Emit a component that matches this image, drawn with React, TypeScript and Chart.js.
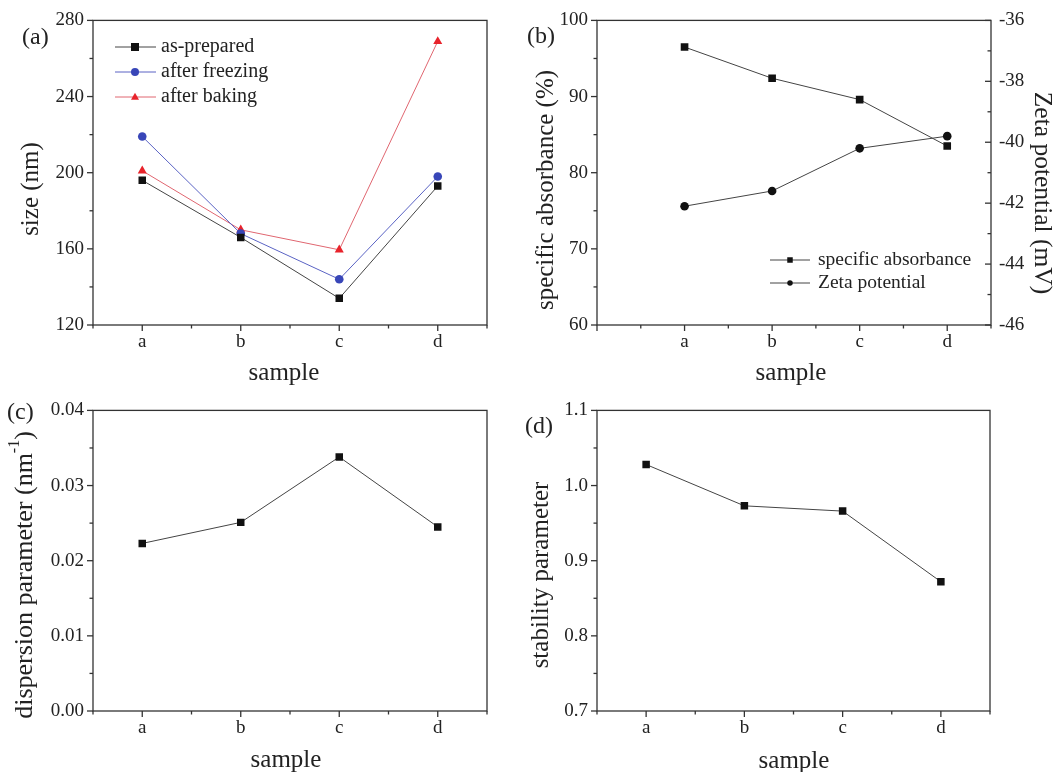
import React, { useEffect, useRef } from 'react';
import { Chart, registerables } from 'chart.js';

Chart.register(...registerables);

// ---------------- data ----------------
const samples = ['a', 'b', 'c', 'd'];
const sizeAsPrepared = [196, 166, 134, 193];
const sizeAfterFreezing = [219, 168, 144, 198];
const sizeAfterBaking = [201, 170, 159.5, 269];
const specificAbsorbance = [96.5, 92.4, 89.6, 83.5];
const zetaPotential = [-42.1, -41.6, -40.2, -39.8];
const dispersionParameter = [0.0223, 0.0251, 0.0338, 0.0245];
const stabilityParameter = [1.028, 0.973, 0.966, 0.872];

// ---------------- style ----------------
const FONT = "'Liberation Serif', 'Times New Roman', serif";
const AXIS = '#333333';
const TICK_TEXT = '#222222';
const BLACK = '#111111';
const BLACK_LINE = '#444444';
const BLUE = '#3846b8';
const BLUE_LINE = '#5a63c4';
const RED = '#e8232b';
const RED_LINE = '#e06670';

type Frame = { left: number; top: number; width: number; height: number };
type TickSpec = { scaleId: string; side: 'left' | 'right' | 'bottom'; major: number[]; minor: number[] };
type TextSpec = {
  text: string; x: number; y: number; rot: number; size: number;
  align?: CanvasTextAlign; sup?: string; tail?: string;
};
type LegendSpec = {
  items: { label: string; color: string; line: string; style: 'rect' | 'circle' | 'triangle' }[];
  x0: number; x1: number; xm: number; xt: number; y0: number; dy: number; size: number; marker: number;
};
type Decor = { frame: Frame; ticks: TickSpec[]; texts: TextSpec[]; legend?: LegendSpec };

function steps(min: number, max: number, step: number): number[] {
  const out: number[] = [];
  const n = Math.round((max - min) / step);
  for (let i = 0; i <= n; i++) out.push(+(min + i * step).toFixed(6));
  return out;
}

function drawMarker(ctx: CanvasRenderingContext2D, style: string, x: number, y: number, s: number, color: string) {
  ctx.fillStyle = color;
  ctx.beginPath();
  if (style === 'rect') {
    ctx.rect(x - s / 2, y - s / 2, s, s);
  } else if (style === 'circle') {
    ctx.arc(x, y, s / 2, 0, Math.PI * 2);
  } else {
    const h = s * 0.87;
    ctx.moveTo(x, y - h * 0.62);
    ctx.lineTo(x + s / 2, y + h * 0.38);
    ctx.lineTo(x - s / 2, y + h * 0.38);
    ctx.closePath();
  }
  ctx.fill();
}

function makeDecor(d: Decor) {
  return {
    id: 'decor',
    afterDraw(chart: any) {
      const ctx: CanvasRenderingContext2D = chart.ctx;
      const a = chart.chartArea;
      const fx = d.frame.left;
      const fy = d.frame.top;
      ctx.save();
      ctx.strokeStyle = AXIS;
      ctx.lineWidth = 1.3;
      // ticks
      for (const t of d.ticks) {
        const s = chart.scales[t.scaleId];
        const draw = (v: number, len: number) => {
          const p = s.getPixelForValue(v);
          ctx.beginPath();
          if (t.side === 'bottom') {
            ctx.moveTo(p, a.bottom);
            ctx.lineTo(p, a.bottom + len);
          } else if (t.side === 'left') {
            ctx.moveTo(a.left - len, p);
            ctx.lineTo(a.left, p);
          } else {
            ctx.moveTo(a.right - len, p);
            ctx.lineTo(a.right, p);
          }
          ctx.stroke();
        };
        t.major.forEach((v) => draw(v, 6));
        t.minor.forEach((v) => draw(v, 3.5));
      }
      // frame
      ctx.strokeRect(a.left, a.top, a.right - a.left, a.bottom - a.top);
      // legend
      if (d.legend) {
        const L = d.legend;
        L.items.forEach((it, i) => {
          const y = L.y0 - fy + i * L.dy;
          ctx.strokeStyle = it.line;
          ctx.lineWidth = 1;
          ctx.beginPath();
          ctx.moveTo(L.x0 - fx, y);
          ctx.lineTo(L.x1 - fx, y);
          ctx.stroke();
          drawMarker(ctx, it.style, L.xm - fx, y, L.marker, it.color);
          ctx.fillStyle = TICK_TEXT;
          ctx.font = `${L.size}px ${FONT}`;
          ctx.textAlign = 'left';
          ctx.textBaseline = 'middle';
          ctx.fillText(it.label, L.xt - fx, y);
        });
      }
      // texts
      for (const t of d.texts) {
        ctx.save();
        ctx.translate(t.x - fx, t.y - fy);
        ctx.rotate((t.rot * Math.PI) / 180);
        ctx.fillStyle = TICK_TEXT;
        ctx.textBaseline = 'middle';
        ctx.textAlign = 'left';
        const mainFont = `${t.size}px ${FONT}`;
        const supFont = `${Math.round(t.size * 0.6)}px ${FONT}`;
        ctx.font = mainFont;
        const wMain = ctx.measureText(t.text).width;
        const wTail = t.tail ? ctx.measureText(t.tail).width : 0;
        ctx.font = supFont;
        const wSup = t.sup ? ctx.measureText(t.sup).width : 0;
        const total = wMain + wSup + wTail;
        let x0 = t.align === 'left' ? 0 : -total / 2;
        ctx.font = mainFont;
        ctx.fillText(t.text, x0, 0);
        x0 += wMain;
        if (t.sup) {
          ctx.font = supFont;
          ctx.fillText(t.sup, x0, -t.size * 0.38);
          x0 += wSup;
        }
        if (t.tail) {
          ctx.font = mainFont;
          ctx.fillText(t.tail, x0, 0);
        }
        ctx.restore();
      }
      ctx.restore();
    },
  };
}

const tickFont = { family: FONT, size: 19 };

function yScale(min: number, max: number, step: number, width: number, fmt: (v: number) => string, position = 'left') {
  return {
    type: 'linear',
    position,
    min,
    max,
    afterFit: (s: any) => { s.width = width; },
    grid: { display: true, drawOnChartArea: false, drawTicks: false },
    border: { display: false },
    ticks: { stepSize: step, padding: position === 'left' ? 9 : 8, color: TICK_TEXT, font: tickFont, autoSkip: false, callback: (v: any) => fmt(Number(v)) },
  };
}

function xCategory(height: number) {
  return {
    type: 'category',
    offset: true,
    afterFit: (s: any) => { s.height = height; },
    grid: { display: true, drawOnChartArea: false, drawTicks: false, offset: false },
    border: { display: false },
    ticks: { padding: 6, color: TICK_TEXT, font: tickFont, autoSkip: false, maxRotation: 0 },
  };
}

function baseOptions(padding: any, scales: any) {
  return {
    responsive: false,
    animation: false,
    events: [],
    layout: { padding, autoPadding: false },
    plugins: { legend: { display: false }, tooltip: { enabled: false }, title: { display: false } },
    scales,
  };
}

function series(data: any[], line: string, marker: string, style: string, radius: number, extra: any = {}) {
  return {
    data,
    borderColor: line,
    borderWidth: 1,
    pointStyle: style,
    pointRadius: radius,
    pointBackgroundColor: marker,
    pointBorderColor: marker,
    pointBorderWidth: 0,
    fill: false,
    tension: 0,
    ...extra,
  };
}

const catMajor = [0, 1, 2, 3];
const catMinor = [-0.5, 0.5, 1.5, 2.5, 3.5];

// ---------------- panels ----------------
const frameA: Frame = { left: 0, top: 0, width: 520, height: 390 };
const frameB: Frame = { left: 520, top: 0, width: 537, height: 390 };
const frameC: Frame = { left: 0, top: 390, width: 520, height: 382 };
const frameD: Frame = { left: 520, top: 390, width: 537, height: 382 };

function buildA() {
  const decor: Decor = {
    frame: frameA,
    ticks: [
      { scaleId: 'x', side: 'bottom', major: catMajor, minor: catMinor },
      { scaleId: 'y', side: 'left', major: steps(120, 280, 40), minor: steps(140, 260, 40) },
    ],
    texts: [
      { text: '(a)', x: 22, y: 38, rot: 0, size: 24, align: 'left' },
      { text: 'size (nm)', x: 31, y: 189, rot: -90, size: 25 },
      { text: 'sample', x: 284, y: 373, rot: 0, size: 25 },
    ],
    legend: {
      items: [
        { label: 'as-prepared', color: BLACK, line: BLACK_LINE, style: 'rect' },
        { label: 'after freezing', color: BLUE, line: BLUE_LINE, style: 'circle' },
        { label: 'after baking', color: RED, line: RED_LINE, style: 'triangle' },
      ],
      x0: 115, x1: 156, xm: 135, xt: 161, y0: 47, dy: 25, size: 20, marker: 8,
    },
  };
  return {
    type: 'line',
    data: {
      labels: samples,
      datasets: [
        series(sizeAsPrepared, BLACK_LINE, BLACK, 'rect', 5.3),
        series(sizeAfterFreezing, BLUE_LINE, BLUE, 'circle', 4.3),
        series(sizeAfterBaking, RED_LINE, RED, 'triangle', 5.2),
      ],
    },
    options: baseOptions({ top: 20, right: 33, left: 0, bottom: 0 }, {
      x: xCategory(65),
      y: yScale(120, 280, 40, 93, (v) => String(v)),
    }),
    plugins: [makeDecor(decor)],
  };
}

function buildB() {
  const decor: Decor = {
    frame: frameB,
    ticks: [
      { scaleId: 'x', side: 'bottom', major: [0, 1, 2, 3, 4], minor: [0.5, 1.5, 2.5, 3.5, 4.5] },
      { scaleId: 'y', side: 'left', major: steps(60, 100, 10), minor: steps(65, 95, 10) },
      { scaleId: 'y2', side: 'right', major: steps(-46, -36, 2), minor: steps(-45, -37, 2) },
    ],
    texts: [
      { text: '(b)', x: 527, y: 37, rot: 0, size: 24, align: 'left' },
      { text: 'specific absorbance (%)', x: 546, y: 190, rot: -90, size: 25 },
      { text: 'Zeta potential (mV)', x: 1042, y: 193, rot: 90, size: 25.5 },
      { text: 'sample', x: 791, y: 373, rot: 0, size: 25 },
    ],
    legend: {
      items: [
        { label: 'specific absorbance', color: BLACK, line: BLACK_LINE, style: 'rect' },
        { label: 'Zeta potential', color: BLACK, line: BLACK_LINE, style: 'circle' },
      ],
      x0: 770, x1: 810, xm: 790, xt: 818, y0: 260, dy: 23, size: 19.5, marker: 5.5,
    },
  };
  return {
    type: 'line',
    data: {
      datasets: [
        series(specificAbsorbance.map((v, i) => ({ x: i + 1, y: v })), BLACK_LINE, BLACK, 'rect', 5.4, { yAxisID: 'y' }),
        series(zetaPotential.map((v, i) => ({ x: i + 1, y: v })), BLACK_LINE, BLACK, 'circle', 4.3, { yAxisID: 'y2' }),
      ],
    },
    options: baseOptions({ top: 20, right: 0, left: 0, bottom: 0 }, {
      x: {
        type: 'linear',
        min: 0,
        max: 4.5,
        afterFit: (s: any) => { s.height = 65; },
        grid: { display: true, drawOnChartArea: false, drawTicks: false },
        border: { display: false },
        ticks: {
          stepSize: 1, includeBounds: false, padding: 6, color: TICK_TEXT, font: tickFont, autoSkip: false, maxRotation: 0,
          callback: (v: any) => {
            const n = Number(v);
            return Number.isInteger(n) && n >= 1 && n <= samples.length ? samples[n - 1] : '';
          },
        },
      },
      y: yScale(60, 100, 10, 77, (v) => String(v)),
      y2: yScale(-46, -36, 2, 66, (v) => String(v), 'right'),
    }),
    plugins: [makeDecor(decor)],
  };
}

function buildC() {
  const decor: Decor = {
    frame: frameC,
    ticks: [
      { scaleId: 'x', side: 'bottom', major: catMajor, minor: catMinor },
      { scaleId: 'y', side: 'left', major: steps(0, 0.04, 0.01), minor: steps(0.005, 0.035, 0.01) },
    ],
    texts: [
      { text: '(c)', x: 7, y: 413, rot: 0, size: 24, align: 'left' },
      { text: 'dispersion parameter (nm', sup: '-1', tail: ')', x: 25, y: 575, rot: -90, size: 26 },
      { text: 'sample', x: 286, y: 760, rot: 0, size: 25 },
    ],
  };
  return {
    type: 'line',
    data: {
      labels: samples,
      datasets: [series(dispersionParameter, BLACK_LINE, BLACK, 'rect', 5.3)],
    },
    options: baseOptions({ top: 15, right: 33, left: 0, bottom: 0 }, {
      x: xCategory(61),
      y: yScale(0, 0.04, 0.01, 93, (v) => v.toFixed(2)),
    }),
    plugins: [makeDecor(decor)],
  };
}

function buildD() {
  const decor: Decor = {
    frame: frameD,
    ticks: [
      { scaleId: 'x', side: 'bottom', major: catMajor, minor: catMinor },
      { scaleId: 'y', side: 'left', major: steps(0.7, 1.1, 0.1), minor: steps(0.75, 1.05, 0.1) },
    ],
    texts: [
      { text: '(d)', x: 525, y: 427, rot: 0, size: 24, align: 'left' },
      { text: 'stability parameter', x: 541, y: 575, rot: -90, size: 25 },
      { text: 'sample', x: 794, y: 761, rot: 0, size: 25 },
    ],
  };
  return {
    type: 'line',
    data: {
      labels: samples,
      datasets: [series(stabilityParameter, BLACK_LINE, BLACK, 'rect', 5.3)],
    },
    options: baseOptions({ top: 15, right: 67, left: 0, bottom: 0 }, {
      x: xCategory(61),
      y: yScale(0.7, 1.1, 0.1, 77, (v) => v.toFixed(1)),
    }),
    plugins: [makeDecor(decor)],
  };
}

function ChartPanel({ frame, build }: { frame: Frame; build: () => any }) {
  const ref = useRef<HTMLCanvasElement>(null);
  useEffect(() => {
    const chart = new Chart(ref.current as HTMLCanvasElement, build());
    return () => chart.destroy();
  }, []);
  return (
    <canvas
      ref={ref}
      width={frame.width}
      height={frame.height}
      style={{ position: 'absolute', left: frame.left, top: frame.top, width: frame.width, height: frame.height }}
    />
  );
}

export default function App() {
  return (
    <div style={{ position: 'absolute', left: 0, top: 0, width: 1057, height: 772, background: '#ffffff', overflow: 'hidden' }}>
      <ChartPanel frame={frameA} build={buildA} />
      <ChartPanel frame={frameB} build={buildB} />
      <ChartPanel frame={frameC} build={buildC} />
      <ChartPanel frame={frameD} build={buildD} />
    </div>
  );
}
